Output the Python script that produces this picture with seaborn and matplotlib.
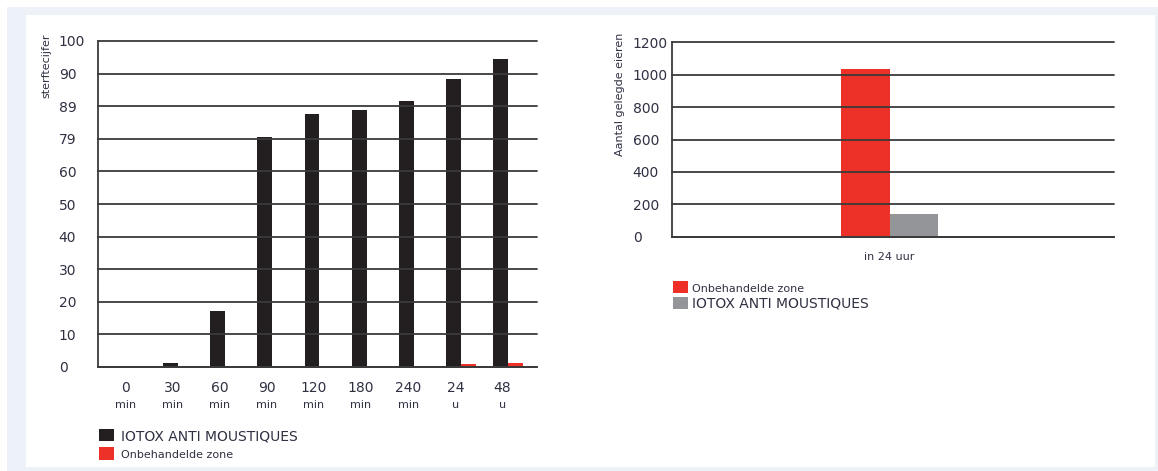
import matplotlib.pyplot as plt
import seaborn as sns
import pandas as pd
import numpy as np
from matplotlib.patches import Rectangle

# left chart: mortality over time
time_numbers = ["0", "30", "60", "90", "120", "180", "240", "24", "48"]
time_units = ["min", "min", "min", "min", "min", "min", "min", "u", "u"]
iotox_mortality = [0, 1.1, 17.2, 70.5, 77.6, 78.8, 81.6, 88.3, 94.5]
untreated_mortality = [0, 0, 0, 0, 0, 0, 0, 0.8, 1.1]
mortality_ticks = [0, 10, 20, 30, 40, 50, 60, 70, 80, 90, 100]
mortality_tick_labels = ["0", "10", "20", "30", "40", "50", "60", "79", "89", "90", "100"]

# right chart: laid eggs
egg_period = ["in 24 uur"]
eggs_untreated = [1035]
eggs_iotox = [142]
egg_ticks = [0, 200, 400, 600, 800, 1000, 1200]

IOTOX = "IOTOX ANTI MOUSTIQUES"
UNTREATED = "Onbehandelde zone"

BLACK = "#231f20"
RED = "#ee3128"
GREY = "#939598"
GRID = "#3a3a3a"
TEXT = "#2f3042"

sns.set_theme(style="white")
plt.rcParams["font.family"] = ["DejaVu Sans"]

time_keys = [n + " " + u for n, u in zip(time_numbers, time_units)]
mort_df = pd.DataFrame({
    "time": time_keys * 2,
    "value": iotox_mortality + untreated_mortality,
    "group": [IOTOX] * len(time_keys) + [UNTREATED] * len(time_keys),
})

egg_df = pd.DataFrame({
    "period": egg_period * 2,
    "value": eggs_untreated + eggs_iotox,
    "group": [UNTREATED] * len(egg_period) + [IOTOX] * len(egg_period),
})

fig = plt.figure(figsize=(11.58, 4.71), dpi=100)
fig.patch.set_facecolor("white")
fig.patches.append(Rectangle((7 / 1158, 0), 1 - 7 / 1158, 1 - 7 / 471,
                             transform=fig.transFigure, facecolor="#edf2f8",
                             edgecolor="none", zorder=-10))
fig.patches.append(Rectangle((26 / 1158, 1 - 467 / 471), (1155 - 26) / 1158, (467 - 15) / 471,
                             transform=fig.transFigure, facecolor="white",
                             edgecolor="none", zorder=-9))


def style_axes(ax, ticks, tick_labels):
    ax.set_facecolor("none")
    ax.set_yticks(ticks)
    ax.set_yticklabels(tick_labels)
    ax.grid(axis="y", color=GRID, linewidth=1.3)
    ax.grid(axis="x", visible=False)
    ax.set_axisbelow(False)
    for gl in ax.yaxis.get_gridlines():
        gl.set_clip_on(False)
    for side in ["top", "right"]:
        ax.spines[side].set_visible(False)
    for side in ["left", "bottom"]:
        ax.spines[side].set_color(GRID)
        ax.spines[side].set_linewidth(1.3)
    ax.tick_params(axis="y", length=0, pad=28, labelsize=10, labelcolor=TEXT)
    for lbl in ax.get_yticklabels():
        lbl.set_horizontalalignment("left")
    ax.set_xlabel("")
    ax.set_ylabel("")


# left chart
ax1 = fig.add_axes([97.7 / 1158, 1 - 367 / 471, (537 - 97.7) / 1158, (367 - 41) / 471])
sns.barplot(data=mort_df, x="time", y="value", hue="group", order=time_keys,
            hue_order=[IOTOX, UNTREATED], palette={IOTOX: BLACK, UNTREATED: RED},
            width=0.63, gap=0, saturation=1, linewidth=0, ax=ax1, legend=True)
ax1.set_xlim(-0.70, 8.61)
ax1.set_ylim(0, 100)
style_axes(ax1, mortality_ticks, mortality_tick_labels)
ax1.set_xticks(np.arange(len(time_keys)) - 0.12)
ax1.set_xticklabels(time_numbers)
ax1.tick_params(axis="x", length=0, pad=10, labelsize=10, labelcolor=TEXT)
for i, unit in enumerate(time_units):
    ax1.text(i - 0.12, -0.118, unit, transform=ax1.get_xaxis_transform(),
             ha="center", va="center", fontsize=8, color=TEXT)
handles, labels = ax1.get_legend_handles_labels()
ax1.get_legend().remove()
leg1 = fig.legend(handles, labels, loc="upper left", bbox_to_anchor=(99 / 1158, 1 - 429 / 471),
                  frameon=False, borderpad=0, borderaxespad=0, fontsize=10,
                  handlelength=1.05, handleheight=1.0, handletextpad=0.55, labelspacing=0.3)
leg1.get_texts()[1].set_fontsize(8)
for t in leg1.get_texts():
    t.set_color(TEXT)
fig.text(46 / 1158, 1 - 33 / 471, "sterftecijfer", rotation=90, ha="center", va="top",
         fontsize=8, color=TEXT)

# right chart
ax2 = fig.add_axes([671.7 / 1158, 1 - 236.7 / 471, (1113.5 - 671.7) / 1158, (236.7 - 42.3) / 471])
sns.barplot(data=egg_df, x="period", y="value", hue="group", order=egg_period,
            hue_order=[UNTREATED, IOTOX], palette={UNTREATED: RED, IOTOX: GREY},
            width=0.22, gap=0, saturation=1, linewidth=0, ax=ax2, legend=True)
ax2.set_xlim(-0.493, 0.507)
ax2.set_ylim(0, 1200)
style_axes(ax2, egg_ticks, [str(v) for v in egg_ticks])
ax2.tick_params(axis="x", length=0, pad=11, labelsize=8, labelcolor=TEXT)
handles, labels = ax2.get_legend_handles_labels()
ax2.get_legend().remove()
leg2 = fig.legend(handles, labels, loc="upper left", bbox_to_anchor=(673 / 1158, 1 - 281 / 471),
                  frameon=False, borderpad=0, borderaxespad=0, fontsize=10,
                  handlelength=1.05, handleheight=1.0, handletextpad=0.35, labelspacing=0.2)
leg2.get_texts()[0].set_fontsize(8)
for t in leg2.get_texts():
    t.set_color(TEXT)
fig.text(620 / 1158, 1 - 33 / 471, "Aantal gelegde eieren", rotation=90, ha="center", va="top",
         fontsize=8, color=TEXT)

fig.savefig("out.png", dpi=100, facecolor=fig.get_facecolor())
plt.close(fig)
